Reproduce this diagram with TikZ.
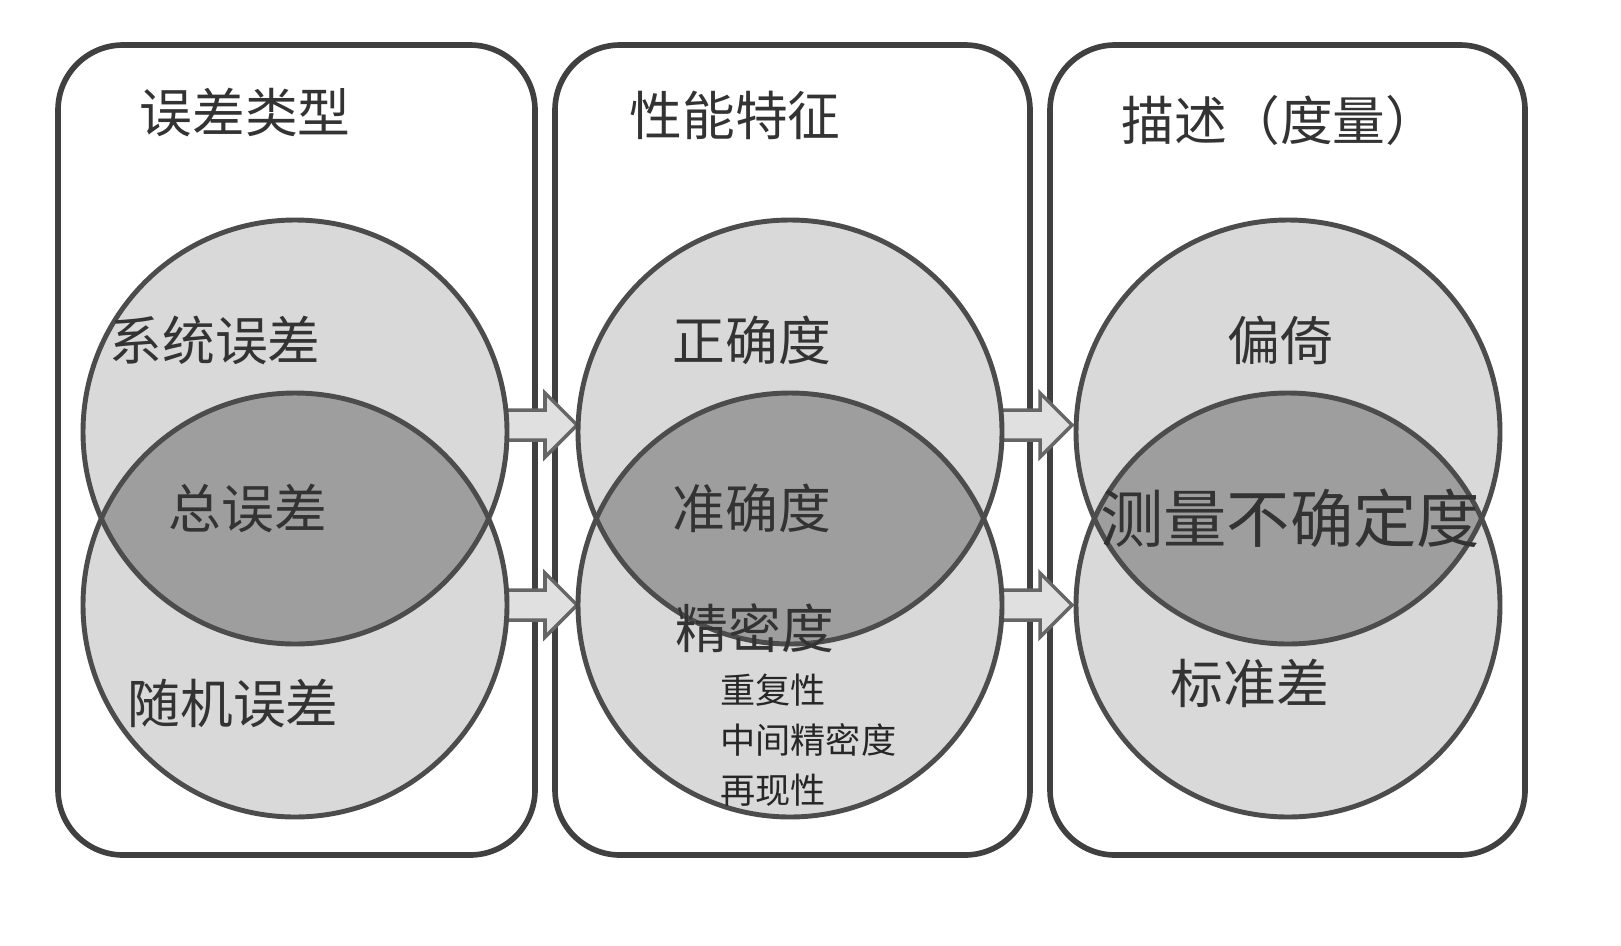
\documentclass[tikz,border=0pt]{standalone}
\usepackage{fontspec}
\newfontfamily\cjk{Noto Sans CJK SC}
\begin{document}
\begin{tikzpicture}[x=0.01cm,y=-0.01cm,
  panel/.style={draw=black!75,line width=1.6pt,rounded corners=0.65cm},
  circ/.style={draw=black!70,line width=1.4pt},
  barrow/.style={draw=black!60,fill=black!12,line width=1pt},
  lbl/.style={text=black!80,font=\cjk\fontsize{15}{17}\selectfont},
  big/.style={text=black!80,font=\cjk\fontsize{18}{20}\selectfont},
  small/.style={text=black!85,font=\cjk\fontsize{10}{12}\selectfont,anchor=west}]
\useasboundingbox (0,0) rectangle (1621,945);
\fill[white] (0,0) rectangle (1621,945);
\draw[panel] (58,45) rectangle (535,855);
\draw[panel] (555,45) rectangle (1030,855);
\draw[panel] (1050,45) rectangle (1525,855);
% block arrows
\foreach \xa/\ya in {505/425,505/605,1000/425,1000/605}{
  \draw[barrow] (\xa,\ya-15) -- (\xa+40,\ya-15) -- (\xa+40,\ya-32) -- (\xa+72,\ya) -- (\xa+40,\ya+32) -- (\xa+40,\ya+15) -- (\xa,\ya+15) -- cycle;
}
\foreach \cx/\n in {295/a,790/b,1288/c}{
  \coordinate (t\n) at (\cx,432);
  \coordinate (b\n) at (\cx,605);
  \fill[black!15] (t\n) circle[radius=212];
  \fill[black!15] (b\n) circle[radius=212];
  \begin{scope}
    \clip (t\n) circle[radius=212];
    \fill[black!38] (b\n) circle[radius=212];
  \end{scope}
  \draw[circ] (t\n) circle[radius=212];
  \draw[circ] (b\n) circle[radius=212];
}
\node[lbl] (h1) at (245,112) {误差类型};
\node[lbl] (h2) at (735,115) {性能特征};
\node[lbl] (h3) at (1280,120) {描述（度量）};
\node[lbl] (a1) at (215,340) {系统误差};
\node[lbl] (a2) at (248,508) {总误差};
\node[lbl] (a3) at (233,703) {随机误差};
\node[lbl] (b1) at (752,340) {正确度};
\node[lbl] (b2) at (752,508) {准确度};
\node[lbl] (b3) at (755,628) {精密度};
\node[small] (s1) at (708,690) {重复性};
\node[small] (s2) at (708,740) {中间精密度};
\node[small] (s3) at (708,790) {再现性};
\node[lbl] (c1) at (1280,340) {偏倚};
\node[big] (c2) at (1290,518) {测量不确定度};
\node[lbl] (c3) at (1250,683) {标准差};
\end{tikzpicture}
\end{document}
